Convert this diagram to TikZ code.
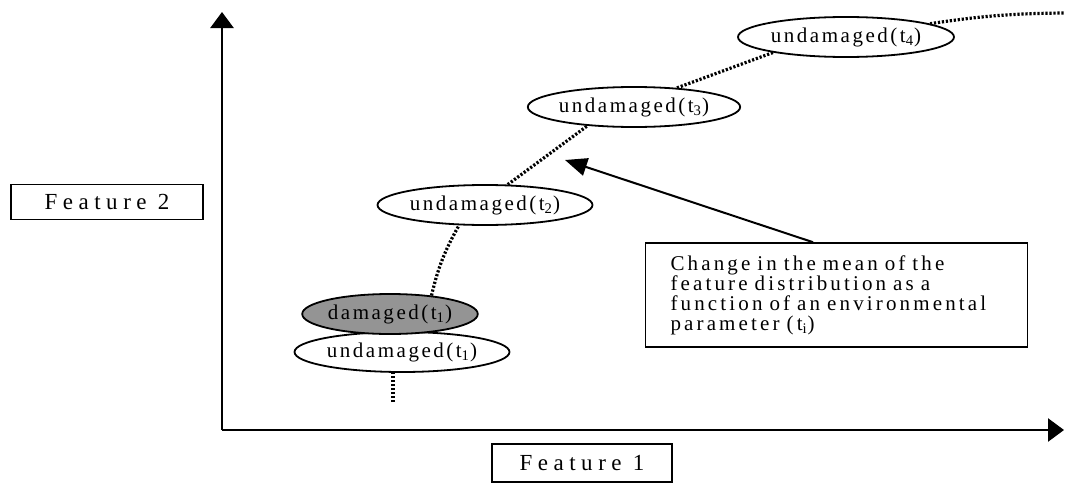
\documentclass[tikz,border=0pt]{standalone}
\usepackage{fontspec}
\setmainfont{Liberation Serif}
\newfontfamily\spaced[LetterSpace=12]{Liberation Serif}
\newfontfamily\notespaced[LetterSpace=15]{Liberation Serif}
\newfontfamily\widespaced[LetterSpace=24]{Liberation Serif}
\usetikzlibrary{shapes.geometric,arrows.meta}
\def\ts#1{\textsubscript{#1}}
\def\notefont{\notespaced\fontsize{10.5}{10}\selectfont\spaceskip=5.5pt plus 1pt\relax}

\begin{document}
\begin{tikzpicture}[x=0.5pt,y=-0.5pt,
  state/.style={ellipse,draw,line width=0.9pt,fill=white,inner sep=0pt,
    minimum height=20pt,font=\spaced\fontsize{10.5}{12}\selectfont},
  damaged/.style={state,fill=black!42},
  featbox/.style={draw,line width=0.8pt,inner sep=0pt,
    font=\widespaced\fontsize{11.5}{13}\selectfont},
  trend/.style={line width=1.6pt,dash pattern=on 1.1pt off 0.9pt},
  axis/.style={line width=1.3pt,-{Triangle[length=8pt,width=11.5pt]}}]
\useasboundingbox (0,0) rectangle (1065,487);

% axes
\coordinate (origin) at (222,430);
\coordinate (ytip) at (222,12);
\coordinate (xtip) at (1064,430);
\draw [axis] (origin) -- (ytip);
\draw [axis] (origin) -- (xtip);

\node [featbox,minimum width=96pt,minimum height=17.5pt] (f2) at (107,202) {Feature 2};
\node [featbox,minimum width=90pt,minimum height=19pt] (f1) at (582,463) {Feature 1};

% states
\node [state,minimum width=107.5pt] (t1) at (402,352) {undamaged(t\ts{1})};
\node [damaged,minimum width=86pt] (d1) at (390,314) {damaged(t\ts{1})};
\node [state,minimum width=107.5pt] (t2) at (485,205) {undamaged(t\ts{2})};
\node [state,minimum width=106pt] (t3) at (634,107) {undamaged(t\ts{3})};
\node [state,minimum width=108pt] (t4) at (846,37) {undamaged(t\ts{4})};

% mean trend
\coordinate (low) at (393,402);
\coordinate (high) at (1065,13);
\draw [trend] (low) -- (low |- t1.south);
\draw [trend] (d1.24) to [bend left=8] (t2.218);
\draw [trend] (t2.42) -- (t3.202);
\draw [trend] (t3.24) -- (t4.192);
\draw [trend] (t4.9) to [bend left=4] (high);

\node [draw,line width=0.8pt,text width=166pt,align=left,inner xsep=12.5pt,
  minimum height=52pt,font=\notefont] (note) at (836.5,295)
  {Change in the mean of the\\feature distribution as a\\function of an environmental\\parameter (t\ts{i})};
\coordinate (tip) at (565,160);
\draw [line width=1pt,-{Triangle[length=11pt,width=9pt]}] ([xshift=-11.75pt]note.north) -- (tip);
\end{tikzpicture}
\end{document}
